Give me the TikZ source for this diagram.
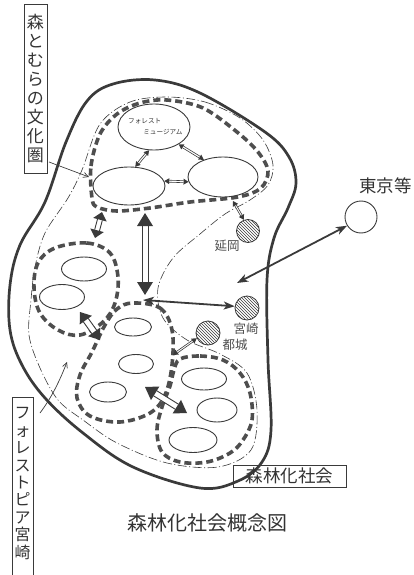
\documentclass[tikz,border=0pt]{standalone}
\usepackage{fontspec}
\newfontfamily\jp{Noto Sans CJK JP}
\usetikzlibrary{shapes.geometric,arrows.meta,calc,patterns}
\definecolor{ink}{HTML}{3A3A3A}
\definecolor{inkl}{HTML}{4E4E4E}
\definecolor{txt}{HTML}{333333}
% hollow double arrow: #1,#2 ends; #3 half shaft gap; #4 head half width; #5 head length; #6 line width
\newcommand\hollowarr[6]{%
  \coordinate (ha-a1) at ($(#1)!#5!(#2)$);
  \coordinate (ha-b1) at ($(#2)!#5!(#1)$);
  \fill[white] ($(ha-a1)!#3!90:(#2)$) -- ($(ha-b1)!#3!-90:(#1)$) -- ($(ha-b1)!#3!90:(#1)$) -- ($(ha-a1)!#3!-90:(#2)$) -- cycle;
  \draw[ink, line width=#6] ($(ha-a1)!#3!90:(#2)$) -- ($(ha-b1)!#3!-90:(#1)$);
  \draw[ink, line width=#6] ($(ha-a1)!#3!-90:(#2)$) -- ($(ha-b1)!#3!90:(#1)$);
  \fill[ink] (#1) -- ($(ha-a1)!#4!90:(#2)$) -- ($(ha-a1)!#4!-90:(#2)$) -- cycle;
  \fill[ink] (#2) -- ($(ha-b1)!#4!90:(#1)$) -- ($(ha-b1)!#4!-90:(#1)$) -- cycle;
}
\begin{document}
\begin{tikzpicture}[x=1pt,y=-1pt,
  outerline/.style={draw=ink, line width=2.7pt},
  thickdash/.style={draw=inkl, line width=3.6pt, dash pattern=on 7pt off 4pt},
  dashdot/.style={draw=ink, line width=0.6pt, dash pattern=on 9pt off 2.5pt on 1pt off 2.5pt},
  elli/.style={ellipse, draw=ink, line width=0.9pt, inner sep=0pt},
  hatch/.style={circle, draw=ink, line width=0.8pt, pattern=north west lines, pattern color=ink, inner sep=0pt, minimum size=23pt},
  vbox/.style={draw=ink, line width=0.8pt, inner sep=0pt, align=center, text=txt},
  thinarr/.style={draw=ink, line width=0.7pt, -{Straight Barb[length=5pt,width=5pt]}},
  bigarr/.style={draw=ink, line width=1.8pt, {Stealth[length=11pt,width=8pt,inset=3pt]}-{Stealth[length=11pt,width=8pt,inset=3pt]}},
  plain/.style={text=txt, inner sep=0pt}
]
\useasboundingbox (0,0) rectangle (413,575);

% outer boundary (forest society)
\draw[outerline] plot[smooth cycle, tension=0.6] coordinates {(200,488) (133,467) (83,433) (45,398) (22,365) (10,330) (10,285) (20,245) (45,202) (66,142) (87,101) (113,84) (155,80) (200,93) (265,132) (289,157) (296,183) (288,208) (274,238) (267,280) (268,360) (271,430) (262,462) (238,481)};

% dash-dot region
\draw[dashdot] plot[smooth cycle, tension=0.55] coordinates {(167,97) (205,102) (240,118) (263,140) (273,165) (268,185) (250,200) (225,214) (200,234) (173,258) (158,288) (163,318) (187,340) (220,354) (247,373) (257,410) (251,450) (218,467) (167,463) (117,443) (83,420) (58,400) (40,368) (29,335) (31,300) (35,267) (45,233) (68,198) (82,170) (100,124) (130,102)};

% thick dashed groups
\draw[thickdash] plot[smooth cycle, tension=0.55] coordinates {(92,198) (91,166) (100,134) (117,114) (140,103) (167,100) (203,108) (237,132) (258,152) (268,171) (261,188) (238,197) (190,202) (150,208) (117,211) (97,207)};
\draw[thickdash] plot[smooth cycle, tension=0.6] coordinates {(55,248) (87,243) (110,253) (118,277) (115,303) (103,322) (80,335) (58,330) (40,313) (34,288) (38,263)};
\draw[thickdash] plot[smooth cycle, tension=0.6] coordinates {(133,303) (160,308) (172,330) (172,365) (165,395) (150,413) (120,422) (90,416) (77,398) (80,375) (92,352) (105,325) (117,309)};
\draw[thickdash] plot[smooth cycle, tension=0.6] coordinates {(180,359) (200,356) (223,360) (240,373) (250,393) (252,420) (243,440) (230,453) (207,462) (180,462) (162,452) (157,430) (162,407) (170,386) (174,370)};

% ellipses
\node[elli, minimum width=72pt, minimum height=46pt] (museum) at (154,127) {};
\node[plain, anchor=north west, font=\jp\fontsize{6.6}{11}\selectfont, align=left] (museumtxt) at (128,118) {フォレスト\\\hspace*{2.3em}ミュージアム};
\node[elli, minimum width=72pt, minimum height=38pt] (ml) at (129,186) {};
\node[elli, minimum width=70pt, minimum height=40pt] (mr) at (223,177) {};
\node[elli, minimum width=45pt, minimum height=24pt] (b1) at (84,269) {};
\node[elli, minimum width=45pt, minimum height=25pt] (b2) at (62,297) {};
\node[elli, minimum width=37pt, minimum height=18pt] (c1) at (133,327) {};
\node[elli, minimum width=35pt, minimum height=19pt] (c2) at (136,364) {};
\node[elli, minimum width=37pt, minimum height=20pt] (c3) at (108,392) {};
\node[elli, minimum width=45pt, minimum height=22pt] (d1) at (204,379) {};
\node[elli, minimum width=40pt, minimum height=24pt] (d2) at (217,410) {};
\node[elli, minimum width=48pt, minimum height=25pt] (d3) at (193,440) {};

% cities
\node[hatch] (nobeoka) at (248,231) {};
\node[hatch, minimum size=24pt] (miyazaki) at (247,308) {};
\node[hatch, minimum size=24pt] (miyakonojo) at (208,333) {};
\node[circle, draw=ink, line width=0.9pt, minimum size=32pt, inner sep=0pt] (tokyo) at (361,217) {};
\node[plain, font=\jp\fontsize{12.5}{13}\selectfont, text=inkl] (lnobeoka) at (227,246) {延岡};
\node[plain, font=\jp\fontsize{12.5}{13}\selectfont, text=inkl] (lmiyazaki) at (246,329) {宮崎};
\node[plain, font=\jp\fontsize{12.5}{13}\selectfont, text=inkl] (lmiyakonojo) at (235,345) {都城};
\node[plain, font=\jp\fontsize{17.5}{18}\selectfont, anchor=west] (ltokyo) at (359,186) {東京等};

% small connectors inside top group
\hollowarr{museum.258}{ml.72}{1pt}{3pt}{5pt}{0.6pt}
\hollowarr{museum.-35}{mr.138}{1pt}{3pt}{5pt}{0.6pt}
\hollowarr{ml.8}{mr.188}{1pt}{3pt}{5pt}{0.6pt}
\coordinate (aN) at (233,201);
\hollowarr{aN}{nobeoka.110}{0.9pt}{3pt}{5pt}{0.6pt}
\coordinate (cdN) at (173,355);
\hollowarr{miyakonojo.205}{cdN}{0.9pt}{3pt}{5pt}{0.6pt}

% big hollow arrows between groups
\coordinate (aS) at (102,212);
\coordinate (bN) at (95,238);
\hollowarr{aS}{bN}{2.5pt}{7pt}{8pt}{0.9pt}
\coordinate (aS2) at (145,213);
\coordinate (cN) at (145,295);
\hollowarr{aS2}{cN}{3pt}{8pt}{13pt}{0.9pt}
\coordinate (bSE) at (80,312);
\coordinate (cW) at (100,340);
\hollowarr{bSE}{cW}{3pt}{7.5pt}{10pt}{0.9pt}
\coordinate (cE) at (145,387);
\coordinate (dW) at (187,413);
\hollowarr{cE}{dW}{3pt}{8pt}{12pt}{0.9pt}

% long arrows
\coordinate (cTop) at (143,300);
\draw[bigarr] (cTop) -- (miyazaki.172);
\coordinate (regE) at (237,283);
\draw[bigarr] (regE) -- (tokyo.212);

% side labels
\node[vbox, minimum width=23pt, minimum height=169pt, font=\jp\fontsize{17}{19}\selectfont] (box1) at (35.5,88.5) {森\\と\\む\\ら\\の\\文\\化\\圏};
\node[vbox, minimum width=21pt, minimum height=203pt, font=\jp\fontsize{16}{17.4}\selectfont, anchor=north] (box2) at (22.5,397) {\\[-1pt]フ\\ォ\\レ\\ス\\ト\\ピ\\ア\\宮\\崎\\[20pt]};
\coordinate (k1) at (49,162);
\coordinate (k1e) at (89,177);
\draw[thinarr] (k1) -- (k1e);
\coordinate (k2) at (40,413);
\coordinate (k2e) at (67,362);
\draw[thinarr] (k2) .. controls (52,397) and (60,380) .. (k2e);

\node[vbox, minimum width=113pt, minimum height=22pt, font=\jp\fontsize{17.5}{18}\selectfont] (soc) at (289.5,476) {森林化社会};
\node[plain, font=\jp\fontsize{20}{22}\selectfont] (title) at (207,523) {森林化社会概念図};
\end{tikzpicture}
\end{document}
